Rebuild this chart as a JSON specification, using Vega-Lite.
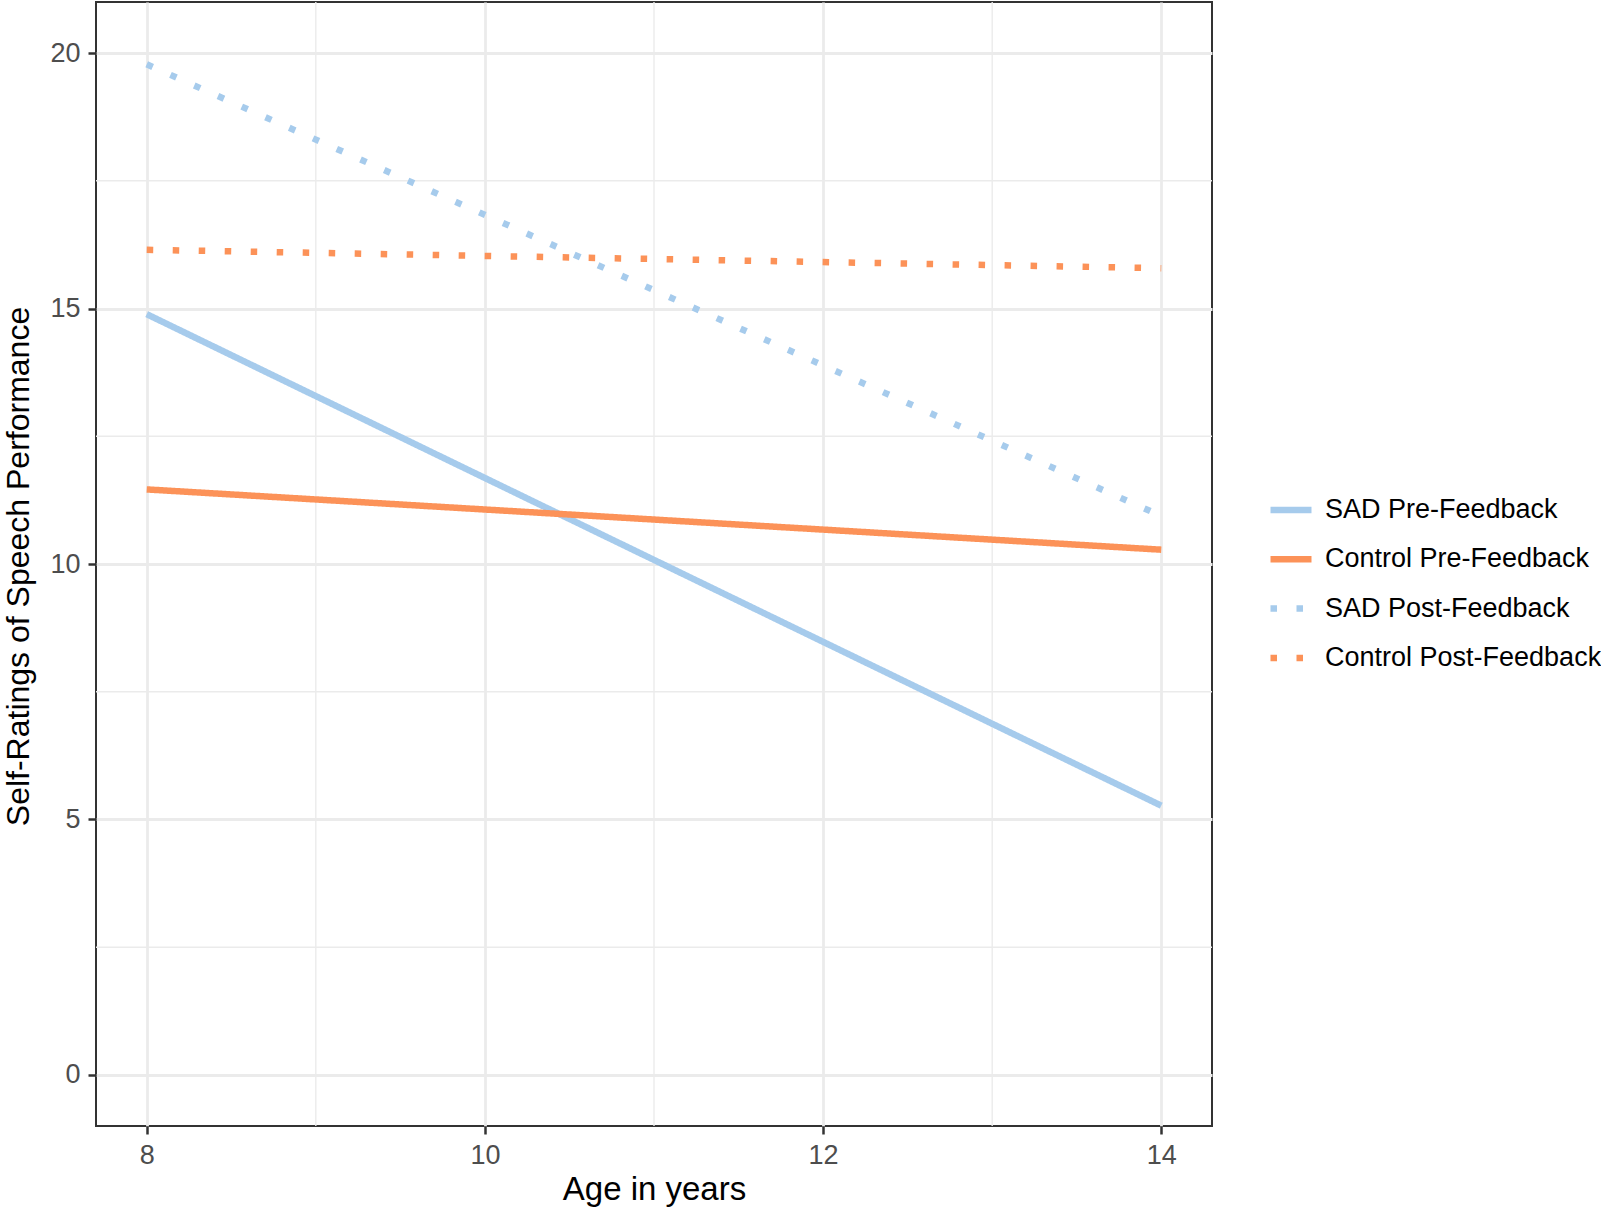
{
  "$schema": "https://vega.github.io/schema/vega-lite/v6.json",
  "autosize": {"type": "none"},
  "width": 1116,
  "height": 1124,
  "padding": {"left": 96, "top": 2, "right": 389, "bottom": 82},
  "background": "white",
  "config": {
    "font": "Liberation Sans",
    "view": {"stroke": "#333333", "strokeWidth": 2},
    "axis": {
      "domain": false,
      "gridColor": "#ebebeb",
      "gridWidth": 2.8,
      "tickColor": "#333333",
      "tickWidth": 2.5,
      "tickSize": 8,
      "labelColor": "#4d4d4d",
      "labelFontSize": 27,
      "labelFont": "Liberation Sans",
      "titleFont": "Liberation Sans",
      "titleFontSize": 33,
      "titleFontWeight": "normal",
      "titleColor": "black"
    }
  },
  "datasets": {
    "lines": [
      {"series": "SAD Pre-Feedback", "age": 8, "rating": 14.89},
      {"series": "SAD Pre-Feedback", "age": 14, "rating": 5.27},
      {"series": "Control Pre-Feedback", "age": 8, "rating": 11.46},
      {"series": "Control Pre-Feedback", "age": 14, "rating": 10.28},
      {"series": "SAD Post-Feedback", "age": 8, "rating": 19.78},
      {"series": "SAD Post-Feedback", "age": 14, "rating": 10.94},
      {"series": "Control Post-Feedback", "age": 8, "rating": 16.15},
      {"series": "Control Post-Feedback", "age": 14, "rating": 15.79}
    ],
    "minorX": [{"v": 9}, {"v": 11}, {"v": 13}],
    "minorY": [{"v": 2.5}, {"v": 7.5}, {"v": 12.5}, {"v": 17.5}]
  },
  "layer": [
    {
      "data": {"name": "minorX"},
      "mark": {"type": "rule", "color": "#ebebeb", "strokeWidth": 1.4},
      "encoding": {
        "x": {"field": "v", "type": "quantitative"}
      }
    },
    {
      "data": {"name": "minorY"},
      "mark": {"type": "rule", "color": "#ebebeb", "strokeWidth": 1.4},
      "encoding": {
        "y": {"field": "v", "type": "quantitative"}
      }
    },
    {
      "data": {"name": "lines"},
      "mark": {"type": "line", "strokeWidth": 6.5, "strokeCap": "butt"},
      "encoding": {
        "x": {
          "field": "age",
          "type": "quantitative",
          "scale": {"domain": [7.7, 14.3], "nice": false, "zero": false},
          "axis": {
            "values": [8, 10, 12, 14],
            "format": "d",
            "title": "Age in years",
            "labelPadding": 8,
            "titleX": 558,
            "titleY": 63,
            "titleBaseline": "middle",
            "titleAnchor": "middle"
          }
        },
        "y": {
          "field": "rating",
          "type": "quantitative",
          "scale": {"domain": [-1, 21], "nice": false, "zero": false},
          "axis": {
            "values": [0, 5, 10, 15, 20],
            "format": "d",
            "title": "Self-Ratings of Speech Performance",
            "titleFontSize": 32,
            "labelPadding": 8,
            "titleX": -78,
            "titleY": 564,
            "titleAngle": -90,
            "titleBaseline": "middle",
            "titleAnchor": "middle"
          }
        },
        "color": {
          "field": "series",
          "type": "nominal",
          "scale": {
            "domain": ["SAD Pre-Feedback", "Control Pre-Feedback", "SAD Post-Feedback", "Control Post-Feedback"],
            "range": ["#a6cbec", "#fc9258", "#a6cbec", "#fc9258"]
          },
          "legend": {
            "title": null,
            "orient": "none",
            "legendX": 1171,
            "legendY": 484,
            "symbolType": "stroke",
            "symbolSize": 1681,
            "symbolStrokeWidth": 6.5,
            "labelFontSize": 27,
            "labelColor": "black",
            "labelFont": "Liberation Sans",
            "labelOffset": 10,
            "rowPadding": 12.3,
            "padding": 0,
            "labelLimit": 400
          }
        },
        "strokeDash": {
          "field": "series",
          "type": "nominal",
          "scale": {
            "domain": ["SAD Pre-Feedback", "Control Pre-Feedback", "SAD Post-Feedback", "Control Post-Feedback"],
            "range": [[1, 0], [1, 0], [6.5, 19.5], [6.5, 19.5]]
          },
          "legend": {
            "title": null,
            "orient": "none",
            "legendX": 1171,
            "legendY": 484
          }
        }
      }
    }
  ]
}
